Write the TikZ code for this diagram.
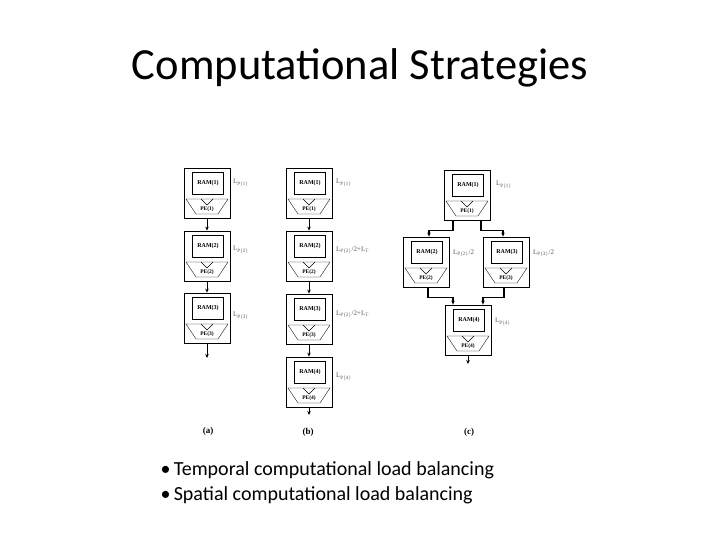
\documentclass[tikz,border=0pt]{standalone}
\usepackage{fontspec}
\setmainfont{Liberation Serif}
\newfontfamily\slidefont{Carlito}
\usetikzlibrary{arrows.meta,positioning}

\tikzset{
  outerbox/.style={draw, thick, minimum width=46pt, minimum height=50pt, inner sep=0pt},
  rambox/.style={draw, thick, minimum width=31pt, minimum height=22pt, inner sep=0pt, font=\fontsize{6}{7}\selectfont\bfseries},
  pelabel/.style={font=\fontsize{5.5}{6}\selectfont\bfseries, inner sep=0pt},
  latency/.style={anchor=west, text=gray!70!black, font=\fontsize{7}{8}\selectfont, inner sep=0pt},
  flow/.style={-{Stealth[length=4pt,width=3.5pt]}, thick},
  busflow/.style={flow, line width=1.5pt},
  caption/.style={font=\fontsize{9}{10}\selectfont\bfseries}
}

\begin{document}
\begin{tikzpicture}[x=1pt, y=-1pt]
  \useasboundingbox (0,0) rectangle (720,540);

  % Title
  \node[font=\slidefont\fontsize{44.5}{48}\selectfont] (title) at (360,68) {Computational Strategies};

  % Processing blocks: name / centre x / top y / index
  \foreach \n/\x/\y/\k in {a1/207/168/1, a2/207/231/2, a3/207/293/3,
                          b1/309/168/1, b2/309/231/2, b3/309/294/3, b4/309/357/4,
                          c1/467/170/1, c2/426/237/2, c3/506/237/3, c4/468/305/4} {
    \node[outerbox] (\n) at (\x,\y+25) {};
    \node[rambox] (\n-ram) at (\x+1,\y+15) {RAM(\k)};
    \draw (\x-21,\y+31) -- (\x+21,\y+31) -- (\x+11,\y+46) -- (\x-11,\y+46) -- cycle;
    \draw (\x-6,\y+31) -- (\x,\y+37) -- (\x+6,\y+31);
    \node[pelabel] (\n-pe) at (\x,\y+41) {PE(\k)};
  }

  % Column (a): temporal pipeline
  \coordinate (aout) at (207,358);
  \draw[flow] (a1) -- (a2);
  \draw[flow] (a2) -- (a3);
  \draw[flow] (a3) -- (aout);
  \node[latency] (la1) at (233,183) {L$_{\mathrm{P(1)}}$};
  \node[latency] (la2) at (233,250) {L$_{\mathrm{P(2)}}$};
  \node[latency] (la3) at (233,316) {L$_{\mathrm{P(3)}}$};
  \node[caption] (capa) at (208,431) {(a)};

  % Column (b): balanced pipeline
  \coordinate (bout) at (309,415);
  \draw[flow] (b1) -- (b2);
  \draw[flow] (b2) -- (b3);
  \draw[flow] (b3) -- (b4);
  \draw[flow] (b4) -- (bout);
  \node[latency] (lb1) at (336,183) {L$_{\mathrm{P(1)}}$};
  \node[latency] (lb2) at (336,250) {L$_{\mathrm{P(2)}}$/2+L$_{\mathrm{T}}$};
  \node[latency] (lb3) at (336,314) {L$_{\mathrm{P(2)}}$/2+L$_{\mathrm{T}}$};
  \node[latency] (lb4) at (336,377) {L$_{\mathrm{P(4)}}$};
  \node[caption] (capb) at (308,432) {(b)};

  % Column (c): spatial split
  \coordinate (cout) at (468,364);
  \draw[busflow] ([xshift=-14pt]c1.south) -- ++(0,10) -| ([xshift=3pt]c2.north);
  \draw[busflow] ([xshift=14pt]c1.south) -- ++(0,10) -| ([xshift=-3pt]c3.north);
  \draw[busflow] ([xshift=2pt]c2.south) -- ++(0,10) -| ([xshift=-15pt]c4.north);
  \draw[busflow] ([xshift=-2pt]c3.south) -- ++(0,10) -| ([xshift=15pt]c4.north);
  \draw[flow] (c4) -- (cout);
  \node[latency] (lc1) at (496,185) {L$_{\mathrm{P(1)}}$};
  \node[latency] (lc2) at (453,253) {L$_{\mathrm{P(2)}}$/2};
  \node[latency] (lc3) at (533,253) {L$_{\mathrm{P(3)}}$/2};
  \node[latency] (lc4) at (495,322) {L$_{\mathrm{P(4)}}$};
  \node[caption] (capc) at (469,432) {(c)};

  % Bullets
  \node[anchor=west, font=\slidefont\fontsize{20}{24}\selectfont] (temporal) at (157,470) {•\,Temporal computational load balancing};
  \node[anchor=west, font=\slidefont\fontsize{20}{24}\selectfont] (spatial) at (157,495) {•\,Spatial computational load balancing};
\end{tikzpicture}
\end{document}
